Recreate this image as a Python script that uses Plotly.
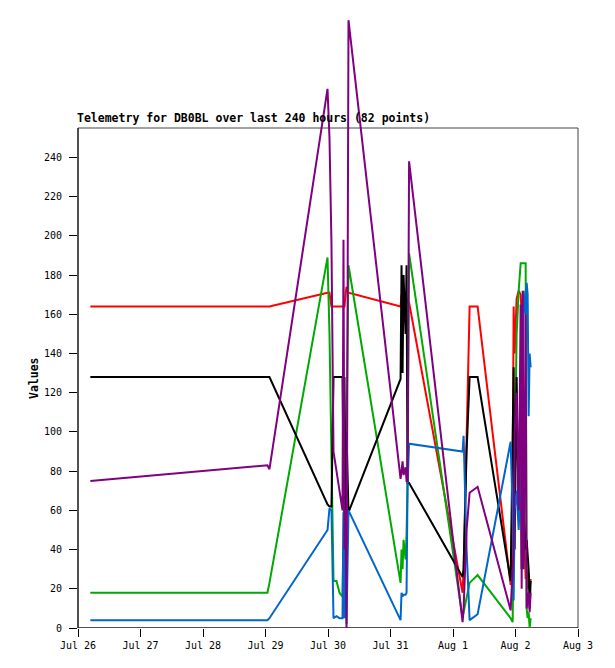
import plotly.graph_objects as go

# telemetry packets (shared timestamps) and the 5 analog channels
times = [
    "2024-07-26 04:44", "2024-07-29 00:45", "2024-07-29 01:31", "2024-07-29 23:49",
    "2024-07-30 00:34", "2024-07-30 01:20", "2024-07-30 02:07", "2024-07-30 03:16",
    "2024-07-30 04:25", "2024-07-30 05:34", "2024-07-30 05:57", "2024-07-30 06:20",
    "2024-07-30 06:43", "2024-07-30 07:07", "2024-07-30 07:52", "2024-07-31 03:52",
    "2024-07-31 04:14", "2024-07-31 04:38", "2024-07-31 05:01", "2024-07-31 05:47",
    "2024-07-31 06:10", "2024-07-31 06:33", "2024-07-31 07:08", "2024-08-01 03:41",
    "2024-08-01 04:04", "2024-08-01 05:13", "2024-08-01 06:23", "2024-08-01 09:27",
    "2024-08-01 22:08", "2024-08-01 22:54", "2024-08-01 23:17", "2024-08-01 23:40",
    "2024-08-02 00:26", "2024-08-02 01:13", "2024-08-02 01:59", "2024-08-02 02:22",
    "2024-08-02 02:45", "2024-08-02 03:08", "2024-08-02 03:54", "2024-08-02 04:17",
    "2024-08-02 04:40", "2024-08-02 05:03", "2024-08-02 05:26", "2024-08-02 05:49",
]

red = [164, 164, 164, 171, 171, 164, 164, 164, 164, 164, 164, 164, 170, 174, 171,
       164, 170, 164, 168, 170, 168, 166, 166, 18, 30, 104, 164, 164, 22, 70, 164,
       140, 168, 172, 170, 160, 165, 60, 25, 30, 20, 28, 20, 25]
green = [18, 18, 23, 189, 150, 80, 24, 24, 18, 16, 60, 80, 100, 100, 185,
         23, 40, 30, 45, 35, 48, 74, 191, 5, 8, 15, 23, 27, 5, 3, 40,
         100, 150, 172, 186, 186, 186, 186, 186, 10, 5, 8, 0, 5]
black = [128, 128, 128, 63, 62, 62, 128, 128, 128, 128, 80, 128, 60, 100, 59,
         127, 185, 130, 180, 150, 185, 74, 74, 26, 30, 90, 128, 128, 24, 90, 133,
         40, 128, 57, 110, 30, 100, 60, 40, 45, 35, 30, 10, 24]
blue = [4, 4, 5, 50, 61, 60, 5, 6, 5, 5, 59, 5, 60, 2, 60,
        4, 18, 16, 17, 17, 18, 73, 94, 90, 98, 40, 4, 7, 95, 60, 14,
        60, 70, 50, 77, 140, 120, 172, 160, 176, 170, 108, 140, 133]
purple = [75, 83, 81, 275, 250, 196, 90, 80, 70, 60, 198, 40, 60, 0, 310,
          76, 80, 85, 78, 82, 75, 75, 238, 3, 10, 50, 69, 72, 9, 30, 40,
          100, 120, 60, 165, 20, 172, 30, 160, 10, 15, 18, 8, 18]

day_ticks = ["2024-07-26", "2024-07-27", "2024-07-28", "2024-07-29", "2024-07-30",
             "2024-07-31", "2024-08-01", "2024-08-02", "2024-08-03"]
day_labels = ["Jul 26", "Jul 27", "Jul 28", "Jul 29", "Jul 30",
              "Jul 31", "Aug 1", "Aug 2", "Aug 3"]
y_ticks = list(range(0, 241, 20))

series = [
    (red, "#ff0000"),
    (green, "#00aa00"),
    (black, "#000000"),
    (blue, "#0066cc"),
    (purple, "#800080"),
]

fig = go.Figure()
for vals, col in series:
    fig.add_trace(go.Scatter(x=times, y=vals, mode="lines",
                             line=dict(color=col, width=2), showlegend=False))

mono = "DejaVu Sans Mono"
frame_top = 255

# page body adds 8px, so margins are shifted to put the frame where the original is
fig.update_layout(
    width=615, height=668,
    margin=dict(l=70, r=45, t=0, b=48),
    plot_bgcolor="white", paper_bgcolor="white",
    font=dict(family=mono, size=10, color="black"),
    xaxis=dict(range=["2024-07-26", "2024-08-03"], tickvals=day_ticks, ticktext=day_labels,
               showgrid=False, zeroline=False, showline=False,
               ticks="outside", ticklen=8, tickcolor="black"),
    yaxis=dict(range=[0, 316.2], tickvals=y_ticks, showgrid=False, zeroline=False,
               showline=False, ticks="outside", ticklen=8, tickcolor="black",
               ticklabelstandoff=5),
)

# gnuplot style frame: grey box, black left/bottom axes
fig.add_shape(type="rect", xref="paper", yref="y", x0=0, x1=1, y0=0, y1=frame_top,
              line=dict(color="#444444", width=1), layer="below")
fig.add_shape(type="line", xref="paper", yref="y", x0=0, x1=0, y0=0, y1=frame_top,
              line=dict(color="black", width=1), layer="below")
fig.add_shape(type="line", xref="paper", yref="y", x0=0, x1=1, y0=0, y1=0,
              line=dict(color="black", width=1), layer="below")

fig.add_annotation(text="<b>Telemetry for DB0BL over last 240 hours (82 points)</b>",
                   xref="paper", yref="y", x=0, y=frame_top, xanchor="left", yanchor="bottom",
                   xshift=-3, yshift=1, showarrow=False,
                   font=dict(family=mono, size=11.5, color="black"))
fig.add_annotation(text="<b>Values</b>", xref="paper", yref="y", x=0, y=frame_top / 2,
                   xshift=-53, textangle=-90, showarrow=False,
                   font=dict(family=mono, size=11.5, color="black"))

fig.write_html("out.html")
